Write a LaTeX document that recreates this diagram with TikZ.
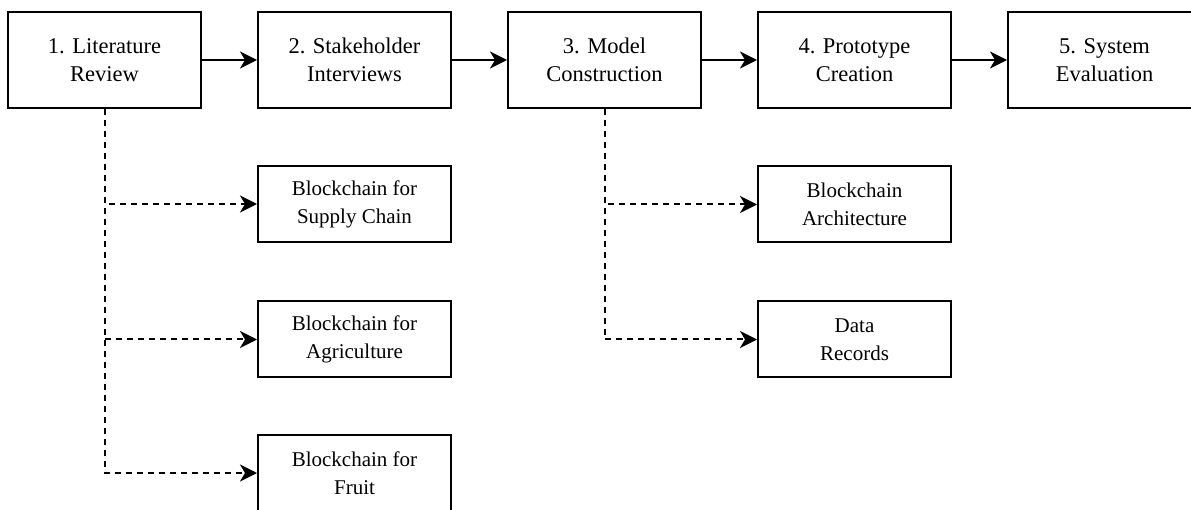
\documentclass[tikz,border=0pt]{standalone}
\usepackage{fontspec}
\setmainfont{Liberation Serif}
\usetikzlibrary{arrows.meta}
\begin{document}
\begin{tikzpicture}[x=1pt,y=-1pt,
  mainbox/.style={draw=black,line width=2pt,minimum width=193pt,minimum height=96pt,inner sep=0pt,align=center,font=\fontsize{22.5}{28}\selectfont},
  subbox/.style={draw=black,line width=2pt,minimum width=193pt,minimum height=76pt,inner sep=0pt,align=center,font=\fontsize{21}{28}\selectfont},
  flow/.style={line width=2pt,-{Stealth[length=17pt,width=17pt,inset=5pt]}},
  branch/.style={line width=2pt,dash pattern=on 6pt off 5pt,-{Stealth[length=17pt,width=17pt,inset=5pt]}}]
\useasboundingbox (0,0) rectangle (1191,510);
\node[mainbox] (b1) at (104.5,60) {1. Literature\\Review};
\node[mainbox] (b2) at (354.5,60) {2. Stakeholder\\Interviews};
\node[mainbox] (b3) at (604.5,60) {3. Model\\Construction};
\node[mainbox] (b4) at (854.5,60) {4. Prototype\\Creation};
\node[mainbox] (b5) at (1104.5,60) {5. System\\Evaluation};
\node[subbox] (s1) at (354.5,204) {Blockchain for\\Supply Chain};
\node[subbox] (s2) at (354.5,339.5) {Blockchain for\\Agriculture};
\node[subbox] (s3) at (354.5,473) {Blockchain for\\Fruit};
\node[subbox] (a1) at (854.5,204.5) {Blockchain\\Architecture};
\node[subbox] (a2) at (854.5,339.5) {Data\\Records};
\draw[flow] (b1) -- (b2);
\draw[flow] (b2) -- (b3);
\draw[flow] (b3) -- (b4);
\draw[flow] (b4) -- (b5);
\draw[branch] (b1.south) |- (s1.west);
\draw[branch] (b1.south) |- (s2.west);
\draw[branch] (b1.south) |- (s3.west);
\draw[branch] (b3.south) |- (a1.west);
\draw[branch] (b3.south) |- (a2.west);
\end{tikzpicture}
\end{document}
